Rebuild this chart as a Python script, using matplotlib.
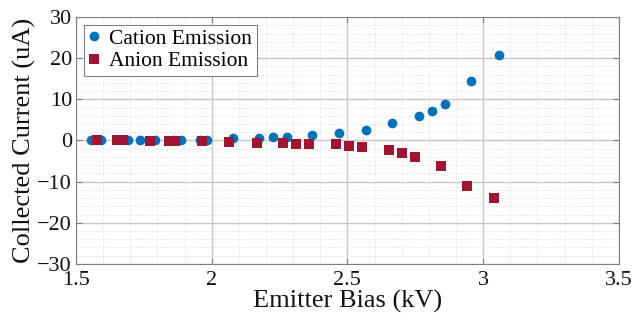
import matplotlib.pyplot as plt
from matplotlib.ticker import MultipleLocator

# cation emission (blue circles)
cation_bias = [1.555, 1.59, 1.69, 1.736, 1.79, 1.858, 1.885, 1.957, 1.983, 2.079, 2.175,
               2.227, 2.276, 2.37, 2.47, 2.568, 2.665, 2.762, 2.811, 2.858, 2.957, 3.057]
cation_current = [0.0, 0.0, 0.0, 0.05, 0.05, 0.1, 0.1, 0.15, 0.2, 0.5, 0.65,
                  0.8, 0.9, 1.4, 1.9, 2.67, 4.22, 5.92, 7.2, 8.98, 14.56, 20.8]

# anion emission (red squares)
anion_bias = [1.576, 1.650, 1.674, 1.773, 1.844, 1.865, 1.963, 2.065, 2.166, 2.264, 2.310,
              2.357, 2.458, 2.507, 2.555, 2.652, 2.700, 2.749, 2.844, 2.941, 3.039]
anion_current = [0.0, 0.0, 0.0, -0.05, -0.05, -0.05, -0.1, -0.32, -0.56, -0.73, -0.89,
                 -0.89, -0.97, -1.3, -1.62, -2.25, -2.98, -4.04, -6.13, -10.97, -14.04]

plt.rcParams['font.family'] = ['Liberation Serif', 'DejaVu Serif']

fig = plt.figure(figsize=(6.34, 3.29), dpi=100)
ax = fig.add_axes([0.12, 0.198, 0.856, 0.75])

ax.plot(cation_bias, cation_current, 'o', color='#0072BD', markersize=7,
        markeredgewidth=0, label='Cation Emission', zorder=3)
ax.plot(anion_bias, anion_current, 's', color='#A2142F', markersize=6.8,
        markeredgewidth=0, label='Anion Emission', zorder=3)

ax.set_xlim(1.5, 3.5)
ax.set_ylim(-30, 30)
ax.yaxis.set_major_locator(MultipleLocator(10))
ax.xaxis.set_minor_locator(MultipleLocator(0.1))
ax.yaxis.set_minor_locator(MultipleLocator(2))
ax.set_xticks([1.5, 2, 2.5, 3, 3.5], ['1.5', '2', '2.5', '3', '3.5'])

ax.grid(which='major', color='#c8c8c8', linewidth=1.0)
ax.grid(which='minor', color='#e8e8e8', linewidth=0.6, linestyle='--')
ax.set_axisbelow(True)

for s in ax.spines.values():
    s.set_color('#808080')
    s.set_linewidth(0.8)
ax.tick_params(which='both', direction='in', top=True, right=True, color='#808080',
               labelsize=16, labelcolor='#111111')
ax.tick_params(axis='x', pad=5)
ax.tick_params(axis='y', pad=3)
ax.tick_params(which='minor', length=0)
ax.tick_params(which='major', length=4)

ax.set_xlabel('Emitter Bias (kV)', fontsize=19, labelpad=0, color='#111111')
ax.set_ylabel('Collected Current (uA)', fontsize=19, labelpad=1, color='#111111')

leg = ax.legend(loc='upper left', fontsize=15.5, fancybox=False, framealpha=1,
                edgecolor='#808080', handlelength=0.6, handletextpad=0.4,
                borderpad=0.2, labelspacing=0.1, borderaxespad=0.35)
leg.get_frame().set_linewidth(0.8)

fig.savefig('out.png', dpi=100)
